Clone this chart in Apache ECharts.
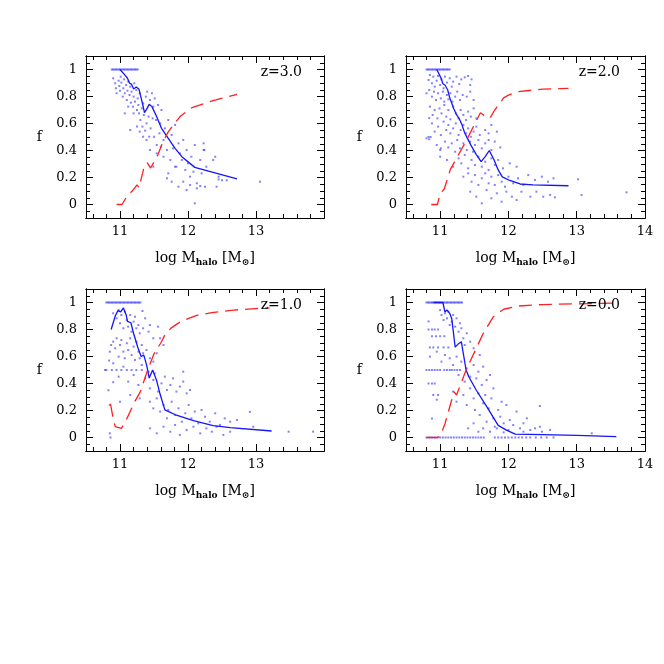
<!DOCTYPE html>
<html><head><meta charset="utf-8">
<script src="https://cdn.jsdelivr.net/npm/echarts@6/dist/echarts.min.js"></script>
<style>html,body{margin:0;padding:0;background:#fff}#c{width:664px;height:664px}</style>
</head><body><div id="c"></div>
<script>
// ---------- tick values ----------
const xMajor = [11, 12, 13, 14];
const xLabelsLeft = [11, 12, 13];
const xLabelsRight = [11, 12, 13, 14];
const xMinor = [10.6, 10.8, 11.2, 11.4, 11.6, 11.8, 12.2, 12.4, 12.6, 12.8, 13.2, 13.4, 13.6, 13.8];
const yMajor = [0, 0.2, 0.4, 0.6, 0.8, 1];
const yMinor = [-0.05, 0.05, 0.1, 0.15, 0.25, 0.3, 0.35, 0.45, 0.5, 0.55, 0.65, 0.7, 0.75, 0.85, 0.9, 0.95, 1.05];
const xRange = [10.5, 14];
const yRange = [-0.1, 1.1];
const panelNames = ['z=3.0', 'z=2.0', 'z=1.0', 'z=0.0'];

// ---------- z = 3.0 ----------
const z3Strip = [[10.88,1],[10.90,1],[10.92,1],[10.94,1],[10.96,1],[10.98,1],[11.00,1],[11.02,1],[11.04,1],[11.06,1],[11.08,1],[11.10,1],[11.12,1],[11.14,1],[11.16,1],[11.18,1],[11.20,1],[11.22,1],[11.24,1],[11.26,1]];
const z3Points = [[10.90,0.935],[10.93,0.898],[10.94,0.861],[10.95,0.824],[10.98,0.917],[10.99,0.878],[11.00,0.843],[11.01,0.947],[11.02,0.903],[11.04,0.799],[11.05,0.861],[11.06,0.927],[11.07,0.824],[11.09,0.885],[11.10,0.774],[11.11,0.843],[11.12,0.910],[11.14,0.811],[11.15,0.873],[11.16,0.754],[11.17,0.836],[11.19,0.725],[11.20,0.799],[11.21,0.898],[11.22,0.762],[11.24,0.848],[11.25,0.700],[11.26,0.786],[11.27,0.737],[11.28,0.675],[11.29,0.824],[11.30,0.626],[11.32,0.712],[11.33,0.577],[11.34,0.749],[11.35,0.663],[11.37,0.547],[11.38,0.799],[11.39,0.601],[11.40,0.836],[11.42,0.651],[11.43,0.502],[11.44,0.774],[11.45,0.564],[11.47,0.824],[11.48,0.638],[11.49,0.725],[11.50,0.502],[11.51,0.786],[11.53,0.626],[11.54,0.441],[11.56,0.737],[11.58,0.527],[11.59,0.601],[11.60,0.428],[11.61,0.700],[11.64,0.478],[11.66,0.564],[11.69,0.404],[11.71,0.626],[11.74,0.330],[11.76,0.515],[11.78,0.416],[11.81,0.589],[11.83,0.280],[11.86,0.453],[11.88,0.379],[11.91,0.330],[11.93,0.478],[11.96,0.256],[11.98,0.404],[12.00,0.305],[12.03,0.206],[12.05,0.354],[12.08,0.243],[12.10,0.441],[12.13,0.157],[12.18,0.330],[12.20,0.231],[12.23,0.404],[12.25,0.132],[12.27,0.280],[12.37,0.330],[12.40,0.354],[12.42,0.132],[12.45,0.206],[11.71,0.231],[11.76,0.169],[11.81,0.280],[11.86,0.132],[11.69,0.194],[11.64,0.354],[11.54,0.379],[11.49,0.280],[11.44,0.404],[11.39,0.478],[11.34,0.502],[11.29,0.540],[11.20,0.675],[11.12,0.725],[11.07,0.675],[11.15,0.552],[11.25,0.577],[11.93,0.169],[12.03,0.144],[12.13,0.120],[11.98,0.107],[12.18,0.137],[12.10,0.009],[12.45,0.186],[12.50,0.180],[12.57,0.180],[13.06,0.169],[12.23,0.453],[12.24,0.404]];
const z3Blue = [[11.00,1.0],[11.07,0.96],[11.11,0.935],[11.14,0.90],[11.17,0.89],[11.20,0.855],[11.24,0.87],[11.28,0.853],[11.30,0.81],[11.33,0.75],[11.36,0.68],[11.39,0.705],[11.43,0.742],[11.47,0.725],[11.54,0.65],[11.61,0.564],[11.71,0.49],[11.81,0.416],[11.91,0.354],[12.10,0.275],[12.72,0.189]];
const z3Red = [[10.95,0],[11.03,0],[11.10,0.06],[11.19,0.105],[11.25,0.145],[11.28,0.125],[11.35,0.27],[11.40,0.31],[11.45,0.27],[11.55,0.36],[11.62,0.45],[11.70,0.53],[11.80,0.60],[11.89,0.655],[12.05,0.715],[12.37,0.77],[12.72,0.815]];

// ---------- z = 2.0 ----------
const z2Strip = [[10.80,1],[10.82,1],[10.84,1],[10.86,1],[10.88,1],[10.90,1],[10.92,1],[10.94,1],[10.96,1],[10.98,1],[11.00,1],[11.02,1],[11.04,1],[11.06,1],[11.08,1],[11.10,1],[11.12,1],[11.14,1]];
const z2Points = [[10.83,0.922],[10.85,0.959],[10.88,0.898],[10.90,0.947],[10.92,0.873],[10.95,0.917],[10.97,0.952],[11.00,0.885],[11.02,0.927],[11.05,0.861],[11.07,0.947],[11.10,0.903],[11.14,0.935],[11.17,0.873],[11.19,0.910],[11.24,0.947],[11.28,0.893],[11.31,0.927],[11.36,0.942],[11.41,0.952],[11.46,0.927],[11.44,0.885],
[10.80,0.824],[10.84,0.848],[10.88,0.799],[10.91,0.836],[10.94,0.774],[10.97,0.824],[11.01,0.786],[11.04,0.836],[11.06,0.762],[11.10,0.811],[11.12,0.779],[11.15,0.824],[11.18,0.762],[11.22,0.799],[11.25,0.836],[11.29,0.774],[11.33,0.811],[11.39,0.799],[11.44,0.836],[11.49,0.774],
[10.85,0.725],[10.89,0.663],[10.92,0.700],[10.96,0.638],[10.99,0.712],[11.02,0.675],[11.06,0.737],[11.09,0.651],[11.12,0.700],[11.15,0.631],[11.19,0.725],[11.23,0.675],[11.27,0.638],[11.30,0.700],[11.34,0.663],[11.38,0.626],[11.41,0.688],[11.45,0.651],[11.49,0.712],[11.53,0.638],
[10.88,0.601],[10.92,0.540],[10.97,0.577],[11.01,0.515],[11.05,0.614],[11.09,0.552],[11.12,0.589],[11.15,0.527],[11.19,0.564],[11.23,0.601],[11.27,0.515],[11.30,0.552],[11.34,0.589],[11.38,0.527],[11.41,0.564],[11.45,0.502],[11.49,0.540],[11.53,0.577],[11.58,0.515],[11.66,0.552],[11.71,0.527],[11.75,0.589],[11.83,0.540],
[10.80,0.490],[10.84,0.483],[10.95,0.441],[11.00,0.404],[11.07,0.466],[11.12,0.423],[11.17,0.453],[11.22,0.391],[11.25,0.478],[11.29,0.416],[11.34,0.453],[11.39,0.404],[11.44,0.466],[11.48,0.391],[11.51,0.441],[11.56,0.478],[11.61,0.416],[11.66,0.453],[11.71,0.478],[11.75,0.404],[11.80,0.466],[11.88,0.423],
[11.00,0.354],[11.10,0.330],[11.19,0.280],[11.27,0.342],[11.31,0.305],[11.36,0.367],[11.41,0.268],[11.46,0.330],[11.51,0.293],[11.56,0.354],[11.61,0.280],[11.66,0.317],[11.71,0.256],[11.75,0.342],[11.80,0.293],[11.85,0.330],[11.92,0.268],[12.02,0.305],[12.12,0.280],
[11.34,0.206],[11.41,0.231],[11.46,0.169],[11.51,0.218],[11.56,0.145],[11.61,0.194],[11.66,0.231],[11.71,0.157],[11.75,0.206],[11.80,0.145],[11.85,0.218],[11.90,0.169],[11.95,0.132],[12.00,0.206],[12.07,0.157],[12.14,0.194],[12.22,0.145],[12.29,0.218],[12.39,0.182],[12.49,0.206],[12.58,0.169],[12.66,0.194],
[11.44,0.095],[11.53,0.058],[11.61,0.009],[11.68,0.107],[11.75,0.046],[11.83,0.083],[11.90,0.021],[11.97,0.095],[12.05,0.058],[12.12,0.033],[12.19,0.095],[12.32,0.058],[12.41,0.095],[12.51,0.058],[12.61,0.071],[12.68,0.053],
[13.02,0.187],[13.07,0.07],[13.73,0.09],[10.83,0.5],[10.86,0.5],[11.01,0.416],[10.84,0.64]];
const z2Blue = [[10.95,1.0],[11.01,0.94],[11.04,0.895],[11.07,0.885],[11.11,0.85],[11.14,0.79],[11.20,0.71],[11.24,0.665],[11.28,0.635],[11.32,0.59],[11.36,0.53],[11.40,0.49],[11.45,0.44],[11.53,0.37],[11.60,0.317],[11.66,0.355],[11.72,0.40],[11.79,0.33],[11.85,0.256],[11.91,0.205],[12.02,0.178],[12.17,0.152],[12.36,0.146],[12.88,0.139]];
const z2Red = [[10.87,0],[10.96,0],[11.00,0.08],[11.06,0.115],[11.15,0.26],[11.27,0.37],[11.38,0.47],[11.49,0.58],[11.59,0.68],[11.68,0.645],[11.73,0.64],[11.80,0.70],[11.93,0.79],[12.00,0.81],[12.12,0.835],[12.50,0.855],[12.88,0.86]];

// ---------- z = 1.0 ----------
const z1Strip = [[10.80,1],[10.82,1],[10.84,1],[10.86,1],[10.88,1],[10.90,1],[10.92,1],[10.94,1],[10.96,1],[10.98,1],[11.00,1],[11.02,1],[11.04,1],[11.06,1],[11.08,1],[11.10,1],[11.12,1],[11.14,1],[11.16,1],[11.18,1],[11.20,1],[11.22,1],[11.24,1],[11.26,1],[11.28,1],[11.30,1]];
const z1Points = [[10.90,0.920],[10.95,0.883],[10.98,0.944],[11.00,0.846],[11.02,0.907],[11.05,0.809],[11.07,0.932],[11.10,0.870],[11.12,0.821],[11.15,0.907],[11.17,0.784],[11.20,0.858],[11.22,0.895],[11.24,0.809],[11.27,0.833],[11.29,0.772],[11.33,0.937],[11.34,0.809],[11.37,0.883],[11.42,0.784],[11.44,0.833],[11.56,0.821],[11.49,0.735],
[10.85,0.636],[10.90,0.710],[10.93,0.661],[10.95,0.735],[10.98,0.599],[11.00,0.685],[11.02,0.722],[11.05,0.636],[11.07,0.587],[11.10,0.698],[11.12,0.648],[11.15,0.735],[11.17,0.611],[11.20,0.673],[11.22,0.574],[11.24,0.710],[11.27,0.636],[11.29,0.587],[11.32,0.685],[11.34,0.624],[11.39,0.648],[11.44,0.587],[11.49,0.562],[11.54,0.624],[11.59,0.735],[11.64,0.685],
[10.80,0.5],[10.88,0.5],[10.95,0.5],[11.02,0.5],[11.10,0.5],[11.17,0.5],[11.24,0.5],[11.32,0.5],
[10.90,0.550],[10.98,0.451],[11.05,0.525],[11.12,0.414],[11.20,0.463],[11.27,0.389],[11.32,0.537],[11.37,0.438],[11.42,0.488],[11.44,0.364],[11.49,0.426],[11.51,0.475],[11.56,0.340],[11.61,0.401],[11.66,0.451],[11.69,0.352],[11.74,0.389],[11.78,0.438],[11.83,0.340],[11.88,0.377],[11.93,0.414],[11.98,0.327],[12.03,0.352],[11.93,0.488],
[10.85,0.241],[11.00,0.265],[11.15,0.315],[11.29,0.290],[11.44,0.265],[11.49,0.216],[11.54,0.290],[11.59,0.192],[11.64,0.241],[11.69,0.142],[11.71,0.204],[11.76,0.265],[11.81,0.167],[11.86,0.216],[11.91,0.117],[11.96,0.179],[12.01,0.241],[12.05,0.142],[12.10,0.192],[12.15,0.105],[12.20,0.204],[12.25,0.154],[12.32,0.117],[12.40,0.179],[12.47,0.093],[12.54,0.142],[12.62,0.117],
[10.85,0.031],[11.44,0.068],[11.54,0.031],[11.64,0.080],[11.74,0.043],[11.81,0.093],[11.88,0.019],[11.98,0.056],[12.08,0.080],[12.18,0.031],[12.27,0.068],[12.35,0.043],[12.42,0.080],[12.52,0.019],[12.62,0.043],
[12.72,0.13],[12.91,0.19],[12.96,0.08],[13.48,0.043],[13.84,0.043],[10.78,0.5],[10.86,0.0],[10.84,0.57],[10.83,0.35],[10.87,0.685],[10.90,0.41]];
const z1Blue = [[10.87,0.80],[10.93,0.90],[10.97,0.94],[11.01,0.93],[11.05,0.96],[11.09,0.91],[11.11,0.86],[11.16,0.85],[11.20,0.77],[11.26,0.67],[11.31,0.60],[11.35,0.61],[11.39,0.54],[11.43,0.44],[11.48,0.50],[11.54,0.42],[11.59,0.32],[11.66,0.205],[11.83,0.165],[12.08,0.125],[12.37,0.088],[12.62,0.073],[13.23,0.048]];
const z1Red = [[10.86,0.25],[10.90,0.14],[10.93,0.08],[11.02,0.068],[11.05,0.09],[11.12,0.16],[11.20,0.25],[11.30,0.34],[11.40,0.49],[11.50,0.62],[11.60,0.70],[11.66,0.76],[11.75,0.81],[11.88,0.855],[12.00,0.88],[12.13,0.905],[12.35,0.925],[12.67,0.944],[13.06,0.957],[13.20,0.96]];

// ---------- z = 0.0 ----------
const z0Strip = [[10.80,1],[10.82,1],[10.84,1],[10.86,1],[10.88,1],[10.90,1],[10.92,1],[10.94,1],[10.96,1],[10.98,1],[11.00,1],[11.02,1],[11.04,1],[11.06,1],[11.08,1],[11.10,1],[11.12,1],[11.14,1],[11.16,1],[11.18,1],[11.20,1],[11.22,1],[11.24,1],[11.26,1],[11.28,1],[11.30,1],[11.32,1]];
const z0Zeros = [[10.80,0],[10.84,0],[10.88,0],[10.92,0],[10.96,0],[11.00,0],[11.04,0],[11.08,0],[11.12,0],[11.16,0],[11.20,0],[11.24,0],[11.28,0],[11.32,0],[11.36,0],[11.40,0],[11.44,0],[11.48,0],[11.52,0],[11.56,0],[11.60,0],[11.64,0],[11.80,0],[11.85,0],[11.90,0],[11.95,0],[12.00,0],[12.05,0],[12.10,0],[12.15,0],[12.20,0],[12.26,0],[12.32,0],[12.40,0],[12.48,0],[12.56,0],[12.66,0]];
const z0Points = [[11.00,0.944],[11.02,0.907],[11.05,0.870],[11.07,0.920],[11.10,0.883],[11.12,0.932],[11.14,0.833],[11.17,0.858],[11.19,0.907],[11.22,0.821],[11.24,0.883],[11.27,0.784],[11.29,0.846],[11.31,0.809],[11.34,0.735],[11.36,0.685],[11.39,0.772],[11.44,0.710],[11.49,0.661],[11.58,0.611],
[10.83,0.8],[10.88,0.8],[10.92,0.8],[10.97,0.8],[10.88,0.75],[10.94,0.75],[11.00,0.75],[11.06,0.75],[10.85,0.667],[10.90,0.667],[10.97,0.667],[11.05,0.667],[11.12,0.667],
[10.85,0.599],[10.95,0.636],[11.02,0.562],[11.07,0.611],[11.14,0.587],[11.19,0.537],[11.24,0.599],[11.27,0.463],[11.31,0.562],[11.36,0.414],[11.39,0.512],[11.44,0.451],[11.49,0.537],[11.53,0.438],[11.56,0.488],[11.61,0.389],[11.63,0.525],[11.68,0.426],[11.73,0.463],[11.78,0.364],
[10.80,0.5],[10.84,0.5],[10.88,0.5],[10.92,0.5],[10.96,0.5],[11.00,0.5],[11.06,0.5],[11.10,0.5],[11.14,0.5],[11.17,0.5],[11.21,0.5],[11.25,0.5],[11.29,0.5],
[10.83,0.4],[10.88,0.4],[10.92,0.4],
[10.90,0.315],[10.97,0.315],[11.19,0.340],[11.24,0.265],[11.34,0.315],[11.39,0.241],[11.44,0.364],[11.49,0.290],[11.51,0.204],[11.56,0.327],[11.58,0.167],[11.63,0.253],[11.66,0.315],[11.68,0.117],[11.71,0.216],[11.75,0.290],[11.78,0.142],[11.80,0.080],[11.85,0.204],[11.88,0.154],[11.90,0.265],[11.93,0.105],[11.97,0.241],[12.02,0.130],[12.07,0.093],[12.12,0.192],[12.17,0.068],[12.22,0.105],[12.27,0.142],[12.46,0.080],
[11.41,0.068],[11.49,0.105],[11.56,0.043],[11.63,0.068],[11.73,0.043],[11.83,0.068],[11.93,0.038],[12.00,0.056],[12.22,0.043],[12.32,0.056],[12.39,0.068],[12.49,0.043],[12.61,0.056],
[12.46,0.233],[13.22,0.031],[10.83,0.86],[10.95,0.28],[10.88,0.14]];
const z0Blue = [[10.90,1.0],[11.04,1.0],[11.07,0.93],[11.10,0.945],[11.14,0.92],[11.17,0.88],[11.22,0.67],[11.26,0.69],[11.31,0.71],[11.38,0.50],[11.42,0.45],[11.53,0.35],[11.68,0.23],[11.85,0.09],[11.97,0.055],[12.10,0.025],[12.50,0.022],[13.00,0.015],[13.58,0.006]];
const z0Red = [[10.80,0],[10.96,0],[11.00,0.01],[11.07,0.10],[11.12,0.19],[11.17,0.28],[11.20,0.34],[11.24,0.315],[11.29,0.38],[11.38,0.50],[11.51,0.64],[11.63,0.77],[11.78,0.895],[11.93,0.95],[12.15,0.974],[12.50,0.985],[13.00,0.99],[13.55,0.995]];

const panels = [
  {scatter: z3Strip.concat(z3Points), blue: z3Blue, red: z3Red},
  {scatter: z2Strip.concat(z2Points), blue: z2Blue, red: z2Red},
  {scatter: z1Strip.concat(z1Points), blue: z1Blue, red: z1Red},
  {scatter: z0Strip.concat(z0Zeros, z0Points), blue: z0Blue, red: z0Red}
];

// ---------- layout ----------
const FONT = 'DejaVu Serif';
const grids = [
  {left: 86, top: 56, width: 238, height: 162},
  {left: 406, top: 56, width: 239, height: 162},
  {left: 86, top: 289, width: 238, height: 162},
  {left: 406, top: 289, width: 239, height: 162}
];
const titlePos = [{right: 362, top: 65}, {right: 44, top: 65}, {right: 362, top: 298}, {right: 44, top: 298}];
const xName = '{a|log M}{s|halo}{a| [M}{s|\u2299}{a|]}';
const nameRich = {
  a: {fontFamily: FONT, fontSize: 14, color: '#000', lineHeight: 18, verticalAlign: 'middle'},
  s: {fontFamily: FONT, fontSize: 9, fontWeight: 'bold', color: '#000', lineHeight: 9, verticalAlign: 'bottom'}
};

function xAxisDef(g, pos, ticks, len, labels, withName) {
  return {
    type: 'value', gridIndex: g, position: pos, min: xRange[0], max: xRange[1],
    axisLine: {show: true, onZero: false, lineStyle: {color: '#000', width: 1}},
    axisTick: {show: true, inside: true, length: len, customValues: ticks, lineStyle: {color: '#000', width: 1}},
    axisLabel: labels ? {show: true, customValues: labels, margin: 7, color: '#000', fontFamily: FONT, fontSize: 13,
      formatter: v => String(v)} : {show: false},
    splitLine: {show: false},
    name: withName ? xName : '', nameLocation: 'middle', nameGap: 31,
    nameTextStyle: {rich: nameRich}
  };
}
function yAxisDef(g, pos, ticks, len, labels) {
  return {
    type: 'value', gridIndex: g, position: pos, min: yRange[0], max: yRange[1],
    axisLine: {show: true, onZero: false, lineStyle: {color: '#000', width: 1}},
    axisTick: {show: true, inside: true, length: len, customValues: ticks, lineStyle: {color: '#000', width: 1}},
    axisLabel: labels ? {show: true, customValues: labels, margin: 9, color: '#000', fontFamily: FONT, fontSize: 13,
      formatter: v => String(Math.round(v * 10) / 10)} : {show: false},
    splitLine: {show: false},
    name: labels ? 'f' : '', nameLocation: 'middle', nameRotate: 0, nameGap: 44,
    nameTextStyle: {fontFamily: FONT, fontSize: 14, color: '#000'}
  };
}

const xAxes = [], yAxes = [], series = [], titles = [];
grids.forEach((gr, g) => {
  const lbl = (g % 2 === 0) ? xLabelsLeft : xLabelsRight;
  xAxes.push(xAxisDef(g, 'bottom', xMajor, 7, lbl, true));
  xAxes.push(xAxisDef(g, 'bottom', xMinor, 4, null, false));
  xAxes.push(xAxisDef(g, 'top', xMajor, 7, null, false));
  xAxes.push(xAxisDef(g, 'top', xMinor, 4, null, false));
  yAxes.push(yAxisDef(g, 'left', yMajor, 7, yMajor));
  yAxes.push(yAxisDef(g, 'left', yMinor, 4, null));
  yAxes.push(yAxisDef(g, 'right', yMajor, 7, null));
  yAxes.push(yAxisDef(g, 'right', yMinor, 4, null));
  const p = panels[g];
  const ax = {xAxisIndex: g * 4, yAxisIndex: g * 4};
  series.push(Object.assign({type: 'scatter', data: p.scatter, symbol: 'rect', symbolSize: 2,
    itemStyle: {color: 'rgba(40,40,255,0.72)'}, silent: true}, ax));
  series.push(Object.assign({type: 'line', data: p.blue, symbol: 'none', silent: true,
    lineStyle: {color: '#1414ff', width: 1.3}}, ax));
  series.push(Object.assign({type: 'line', data: p.red, symbol: 'none', silent: true,
    lineStyle: {color: '#ff2020', width: 1.3, type: [13, 7]}}, ax));
  titles.push(Object.assign({text: panelNames[g], padding: 0,
    textStyle: {fontFamily: FONT, fontSize: 14, fontWeight: 'normal', color: '#000'}}, titlePos[g]));
});

const chart = echarts.init(document.getElementById('c'), null, {renderer: 'canvas'});
chart.setOption({
  animation: false,
  backgroundColor: '#fff',
  title: titles,
  grid: grids,
  xAxis: xAxes,
  yAxis: yAxes,
  series: series
});
</script></body></html>
